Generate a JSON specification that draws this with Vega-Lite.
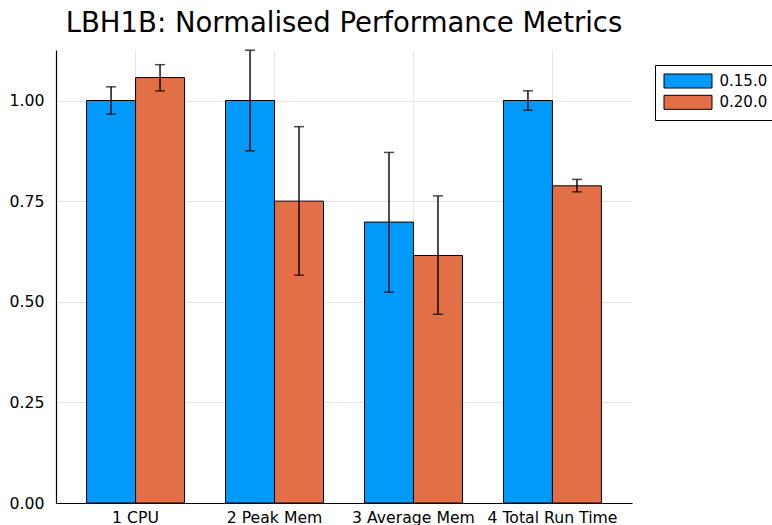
{
  "$schema": "https://vega.github.io/schema/vega-lite/v6.json",
  "autosize": "none",
  "width": 576,
  "height": 453,
  "padding": {"left": 56, "top": 50, "right": 140, "bottom": 22},
  "background": "white",
  "config": {
    "font": "DejaVu Sans",
    "view": {"stroke": null},
    "axis": {"labelFont": "DejaVu Sans", "labelColor": "#000000"}
  },
  "title": {
    "text": "LBH1B: Normalised Performance Metrics",
    "fontSize": 27.5,
    "fontWeight": "normal",
    "font": "DejaVu Sans",
    "color": "#000000",
    "anchor": "middle",
    "offset": 12
  },
  "data": {
    "values": [
      {"metric": "1 CPU", "version": "0.15.0", "value": 1.0, "lo": 0.966, "hi": 1.034},
      {"metric": "1 CPU", "version": "0.20.0", "value": 1.057, "lo": 1.024, "hi": 1.089},
      {"metric": "2 Peak Mem", "version": "0.15.0", "value": 1.0, "lo": 0.875, "hi": 1.125},
      {"metric": "2 Peak Mem", "version": "0.20.0", "value": 0.75, "lo": 0.566, "hi": 0.935},
      {"metric": "3 Average Mem", "version": "0.15.0", "value": 0.698, "lo": 0.524, "hi": 0.871},
      {"metric": "3 Average Mem", "version": "0.20.0", "value": 0.615, "lo": 0.469, "hi": 0.763},
      {"metric": "4 Total Run Time", "version": "0.15.0", "value": 1.0, "lo": 0.976, "hi": 1.024},
      {"metric": "4 Total Run Time", "version": "0.20.0", "value": 0.788, "lo": 0.773, "hi": 0.804}
    ]
  },
  "encoding": {
    "x": {
      "field": "metric",
      "type": "nominal",
      "title": null,
      "scale": {"paddingInner": 0.295, "paddingOuter": 0.22},
      "axis": {
        "labelAngle": 0,
        "labelFontSize": 15.7,
        "labelPadding": 7,
        "ticks": false,
        "grid": true,
        "bandPosition": 0.5,
        "gridColor": "#e6e6e6",
        "gridWidth": 1,
        "domainColor": "#000000",
        "domainWidth": 1.2
      }
    },
    "xOffset": {"field": "version", "type": "nominal", "scale": {"paddingInner": 0}}
  },
  "layer": [
    {
      "mark": {"type": "bar", "stroke": "#000000", "strokeWidth": 1},
      "encoding": {
        "y": {
          "field": "value",
          "type": "quantitative",
          "title": null,
          "scale": {"domain": [0, 1.1255], "nice": false, "zero": true},
          "axis": {
            "values": [0, 0.25, 0.5, 0.75, 1.0],
            "format": ".2f",
            "labelFontSize": 15.7,
            "labelPadding": 12,
            "ticks": false,
            "gridColor": "#e6e6e6",
            "gridWidth": 1,
            "domainColor": "#000000",
            "domainWidth": 1.2
          }
        },
        "color": {
          "field": "version",
          "type": "nominal",
          "title": null,
          "scale": {"domain": ["0.15.0", "0.20.0"], "range": ["#009AFA", "#E26F46"]},
          "legend": {
            "orient": "none",
            "legendX": 599,
            "legendY": 15,
            "symbolType": "M-1,-1H5.857V1H-1Z",
            "symbolSize": 196,
            "symbolStrokeColor": "#000000",
            "symbolStrokeWidth": 1,
            "symbolOpacity": 1,
            "labelFontSize": 15,
            "labelColor": "#000000",
            "labelOffset": 41,
            "strokeColor": "#000000",
            "padding": 8.5,
            "rowPadding": 2.3,
            "fillColor": "white"
          }
        }
      }
    },
    {
      "mark": {"type": "rule", "color": "#000000", "strokeWidth": 1.4},
      "encoding": {
        "y": {"field": "lo", "type": "quantitative"},
        "y2": {"field": "hi"}
      }
    },
    {
      "mark": {"type": "tick", "color": "#000000", "size": 10, "thickness": 1.5, "orient": "horizontal"},
      "encoding": {"y": {"field": "lo", "type": "quantitative"}}
    },
    {
      "mark": {"type": "tick", "color": "#000000", "size": 10, "thickness": 1.5, "orient": "horizontal"},
      "encoding": {"y": {"field": "hi", "type": "quantitative"}}
    }
  ]
}
